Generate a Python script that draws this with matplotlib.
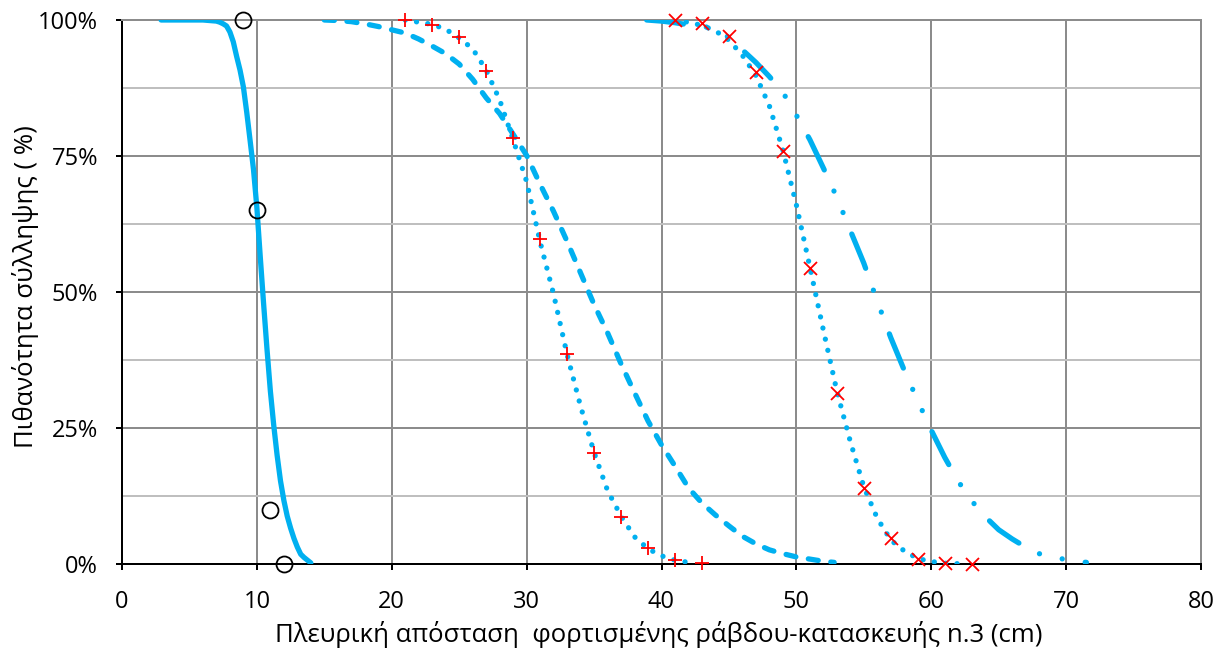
import matplotlib
matplotlib.use("Agg")
import matplotlib.pyplot as plt
from matplotlib.ticker import FixedLocator, FuncFormatter

plt.rcParams['font.family'] = ['Open Sans', 'DejaVu Sans']

# ---- data ----
# solid curve
solid_x = [2.9, 4, 5, 6, 6.5, 7, 7.25, 7.5, 7.75, 8, 8.25, 8.5, 8.75, 9, 9.25, 9.5, 9.75, 10,
           10.25, 10.5, 10.75, 11, 11.25, 11.5, 11.75, 12, 12.25, 12.5, 12.75, 13, 13.25, 13.5, 14]
solid_y = [100, 100, 100, 100, 99.9, 99.8, 99.6, 99.3, 98.9, 97.8, 96.0, 93.3, 90.8, 87.7, 83.0,
           77.8, 72.5, 65.5, 56.5, 47.8, 39.5, 31.8, 25.5, 20.0, 15.3, 11.7, 8.8, 6.6, 4.7, 3.1,
           1.8, 1.2, 0.2]

# dashed curve
dash_x = [15, 16, 17, 18, 19, 20, 21, 22, 23, 24, 25, 26, 27, 28, 29, 30, 31, 32, 33, 34,
          35, 36, 37, 38, 39, 40, 41, 42, 43, 44, 45, 46, 47, 48, 49, 50, 51, 52, 52.8]
dash_y = [100, 99.9, 99.7, 99.3, 98.8, 98.2, 97.6, 96.5, 95.2, 93.8, 91.9, 89.1, 85.7, 82.8,
          79.0, 75.1, 69.8, 64.8, 59.3, 53.5, 47.7, 42.5, 36.8, 31.5, 26.3, 21.9, 18.0, 14.0,
          11.2, 9.0, 7.0, 5.1, 3.7, 2.6, 1.9, 1.3, 0.9, 0.5, 0.3]

# dotted curve through "+" points
dotB_x = [21, 22, 23, 24, 25, 26, 27, 28, 29, 30, 31, 32, 33, 34, 35, 36, 37, 38, 39, 40, 41, 42, 42.5]
dotB_y = [100, 99.6, 99.2, 98.3, 96.7, 94.7, 90.8, 85.3, 78.0, 70.3, 59.2, 49.6, 38.5, 29.0,
          20.5, 13.5, 8.8, 5.0, 2.8, 1.5, 0.7, 0.3, 0.2]

# dotted curve through "x" points
dotC_x = [41, 42, 43, 44, 45, 46, 47, 48, 49, 50, 51, 52, 53, 54, 55, 56, 57, 58, 59, 60, 61, 62, 62.3]
dotC_y = [99.9, 99.6, 99.0, 98.0, 96.3, 93.5, 89.8, 84.2, 76.1, 66.0, 54.6, 43.0, 31.8, 22.5,
          14.2, 8.4, 4.4, 2.4, 1.0, 0.45, 0.15, 0.05, 0.0]

# long-dash-dot-dot curve
ldd_x = [38.9, 40, 41, 42, 43, 44, 45, 46, 47, 48, 49, 50, 51, 52, 53, 54, 55, 56, 57, 58, 59,
         60, 61, 62, 63, 64, 65, 66, 67, 68, 69, 70, 71, 71.5]
ldd_y = [100, 99.8, 99.5, 99.1, 98.9, 98.3, 96.8, 94.5, 92.2, 89.6, 86.7, 82.5, 78.0, 72.8,
         67.4, 61.3, 55.3, 48.3, 41.6, 35.6, 30.0, 24.6, 19.6, 15.2, 11.6, 8.7, 6.3, 4.6, 3.1,
         1.9, 1.3, 0.8, 0.4, 0.3]

# measured points
circ_x = [9, 10, 11, 12]
circ_y = [100, 65, 10, 0]
plus_x = [21, 23, 25, 27, 29, 31, 33, 35, 37, 39, 41, 43]
plus_y = [100, 99.1, 96.9, 90.6, 78.3, 59.7, 38.6, 20.4, 8.6, 2.9, 0.7, 0.1]
cross_x = [41, 43, 45, 47, 49, 51, 53, 55, 57, 59, 61, 63]
cross_y = [100, 99.4, 97.1, 90.4, 76.0, 54.5, 31.4, 13.9, 4.7, 1.0, 0.2, 0.0]

x_ticks = [0, 10, 20, 30, 40, 50, 60, 70, 80]
y_ticks = [0, 25, 50, 75, 100]
y_minor = [12.5, 37.5, 62.5, 87.5]
x_label = "Πλευρική απόσταση  φορτισμένης ράβδου-κατασκευής n.3 (cm)"
y_label = "Πιθανότητα σύλληψης ( %)"

# ---- figure ----
DPI = 100
fig = plt.figure(figsize=(12.2, 6.52), dpi=DPI)
ax = fig.add_axes([122 / 1220, 1 - 564 / 652, (1201 - 122) / 1220, (564 - 20) / 652])

blue = '#00B0F0'
lw = 3.8
px = 72 / DPI
fs = 17
fs_lab = 18.5

ax.plot(solid_x, solid_y, color=blue, lw=lw, solid_capstyle='round',
        solid_joinstyle='round', zorder=3)
l_dash, = ax.plot(dash_x, dash_y, color=blue, lw=lw, zorder=3)
l_dash.set_dashes([1.9, 2.4])
l_dash.set_dash_capstyle('round')
for xs, ys in [(dotB_x, dotB_y), (dotC_x, dotC_y)]:
    l, = ax.plot(xs, ys, color=blue, lw=lw, zorder=3)
    l.set_dashes([0.01, 2.15])
    l.set_dash_capstyle('round')
l_ldd, = ax.plot(ldd_x, ldd_y, color=blue, lw=lw, zorder=3)
l_ldd.set_dashes([7.0, 4.4, 0.01, 4.4, 0.01, 4.4])
l_ldd.set_dash_capstyle('round')

ax.plot(circ_x, circ_y, ls='none', marker='o', ms=16 * px, mfc='none', mec='black',
        mew=1.8 * px, zorder=5, clip_on=False)
ax.plot(plus_x, plus_y, ls='none', marker='+', ms=14 * px, mec='#FF0000', mew=1.8 * px,
        zorder=5, clip_on=False)
ax.plot(cross_x, cross_y, ls='none', marker='x', ms=13 * px, mec='#FF0000', mew=1.8 * px,
        zorder=5, clip_on=False)

ax.set_xlim(0, 80)
ax.set_ylim(0, 100)
ax.xaxis.set_major_locator(FixedLocator(x_ticks))
ax.yaxis.set_major_locator(FixedLocator(y_ticks))
ax.yaxis.set_minor_locator(FixedLocator(y_minor))
ax.yaxis.set_major_formatter(FuncFormatter(lambda v, p: f"{v:.0f}%"))

ax.set_axisbelow(True)
ax.grid(True, which='major', axis='both', color='#8C8C8C', lw=2 * px)
ax.grid(True, which='minor', axis='y', color='#BFBFBF', lw=2 * px)

for s in ['left', 'bottom']:
    ax.spines[s].set_color('black')
    ax.spines[s].set_linewidth(2 * px)
for s in ['top', 'right']:
    ax.spines[s].set_color('#8C8C8C')
    ax.spines[s].set_linewidth(2 * px)

ax.tick_params(axis='both', which='major', direction='out', length=6 * px, width=2 * px,
               color='black', labelsize=fs, labelcolor='black')
ax.tick_params(axis='y', which='minor', length=0)
ax.tick_params(axis='x', pad=20 * px)
ax.tick_params(axis='y', pad=18 * px)

ax.set_xlabel(x_label, fontsize=fs_lab, va='center', ha='center')
ax.xaxis.set_label_coords(0.497, -(635 - 564) / 544)
ax.set_ylabel(y_label, fontsize=fs_lab, va='center', ha='center')
ax.yaxis.set_label_coords(-(122 - 26) / 1079, 0.51)

fig.savefig('out.png', dpi=DPI)
